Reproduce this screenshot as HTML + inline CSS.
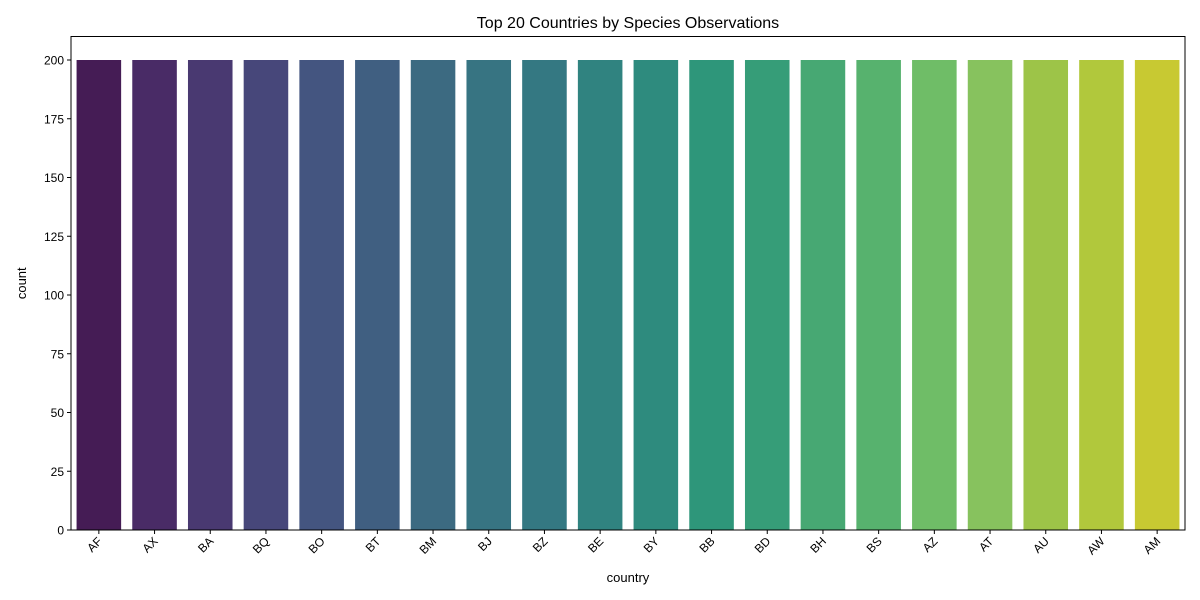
<!DOCTYPE html>
<html><head><meta charset="utf-8"><style>body{margin:0;background:#fff}svg{display:block;font-family:"Liberation Sans","DejaVu Sans",sans-serif}</style></head>
<body>
<svg id="chart" width="1200" height="600"></svg>
<script>
const categories=["AF","AX","BA","BQ","BO","BT","BM","BJ","BZ","BE","BY","BB","BD","BH","BS","AZ","AT","AU","AW","AM"];
const counts=[200,200,200,200,200,200,200,200,200,200,200,200,200,200,200,200,200,200,200,200];
const yTicks=[0,25,50,75,100,125,150,175,200];
const colors=["#451c55","#492b66","#493971","#47477a","#445580","#405f81","#3c6a81","#377482","#347882","#308380","#2e8b7e","#2e967a","#369d78","#47a873","#57b26e","#6fbd67","#87c25e","#9dc448","#b1c83c","#c8c932"];
const svg=document.getElementById('chart');const NS="http://www.w3.org/2000/svg";
const L=71,R=1185,T=36.5,B=530,yMax=210;
const y=v=>B-(v/yMax)*(B-T);
const band=(R-L)/categories.length;
const x=i=>L+band*i+band*0.1;
function mk(t,a,p){const e=document.createElementNS(NS,t);for(const k in a)e.setAttribute(k,a[k]);(p||svg).appendChild(e);return e;}
let title=mk('text',{x:(L+R)/2,y:28,'text-anchor':'middle','font-size':16,fill:'#000'});title.textContent="Top 20 Countries by Species Observations";


counts.forEach((v,i)=>{const r=mk('rect',{x:x(i),y:y(v),width:band*0.8,height:B-y(v),fill:colors[i]});


const cx=L+band*(i+0.5);mk('line',{x1:cx,x2:cx,y1:B,y2:B+4,stroke:'#000'});
const t=mk('text',{x:cx+4,y:B+12,'text-anchor':'end','font-size':12,fill:'#000',transform:`rotate(-45 ${cx+4} ${B+12})`});t.textContent=categories[i];

});
yTicks.forEach(v=>{mk('line',{x1:L-4,x2:L,y1:y(v),y2:y(v),stroke:'#000'});
const t=mk('text',{x:L-7,y:y(v)+4.5,'text-anchor':'end','font-size':12,fill:'#000'});t.textContent=v;

});
const f=mk('rect',{x:L,y:T,width:R-L,height:B-T,fill:'none',stroke:'#000','stroke-width':1});


let xl=mk('text',{x:(L+R)/2,y:582,'text-anchor':'middle','font-size':13,fill:'#000'});xl.textContent='country';


let yl=mk('text',{x:26,y:(T+B)/2,'text-anchor':'middle','font-size':13,fill:'#000',transform:`rotate(-90 26 ${(T+B)/2})`});yl.textContent='count';


</script>
</body></html>
